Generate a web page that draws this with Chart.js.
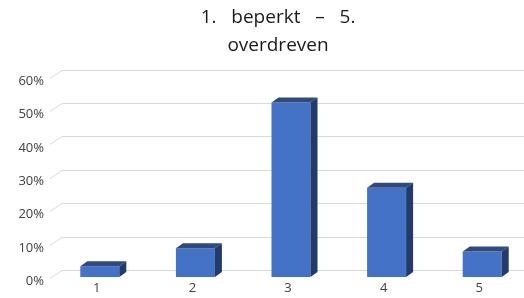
<!DOCTYPE html>
<html>
<head>
<meta charset="utf-8">
<script src="https://cdn.jsdelivr.net/npm/chart.js@4/dist/chart.umd.min.js"></script>
<style>
html,body{margin:0;padding:0;overflow:hidden;background:#fff;width:524px;height:298px;}
canvas{display:block;}
</style>
</head>
<body>
<canvas id="c" width="556" height="298"></canvas>
<script>
const categories = ['1', '2', '3', '4', '5'];
const values = [3.2, 8.6, 52.2, 26.7, 7.6];
const yTicks = [0, 10, 20, 30, 40, 50, 60];
const titleLines = ['1.   beperkt   \u2013   5.', 'overdreven'];

const depth3d = {
  id: 'depth3d',
  beforeDatasetsDraw(chart) {
    const { ctx, chartArea, scales: { y } } = chart;
    ctx.save();
    ctx.strokeStyle = '#d9d9d9';
    ctx.lineWidth = 1;
    y.ticks.forEach(t => {
      const py = Math.round(y.getPixelForValue(t.value)) + 0.5;
      ctx.beginPath();
      ctx.moveTo(chartArea.left - 2, py + 1);
      ctx.lineTo(chartArea.left + 10, py - 7);
      ctx.lineTo(chart.width, py - 7);
      ctx.stroke();
    });
    ctx.restore();
  },
  afterDatasetsDraw(chart) {
    const { ctx } = chart;
    const dx = 7, dy = 5;
    chart.getDatasetMeta(0).data.forEach(bar => {
      const { x, y, base, width } = bar.getProps(['x', 'y', 'base', 'width'], true);
      const L = x - width / 2, R = x + width / 2;
      ctx.save();
      ctx.fillStyle = '#2C4A84';
      ctx.beginPath();
      ctx.moveTo(L, y);
      ctx.lineTo(L + dx, y - dy);
      ctx.lineTo(R + dx, y - dy);
      ctx.lineTo(R, y);
      ctx.closePath();
      ctx.fill();
      ctx.fillStyle = '#223B6C';
      ctx.beginPath();
      ctx.moveTo(R, y);
      ctx.lineTo(R + dx, y - dy);
      ctx.lineTo(R + dx, base - dy);
      ctx.lineTo(R, base);
      ctx.closePath();
      ctx.fill();
      ctx.restore();
    });
  }
};

new Chart(document.getElementById('c'), {
  type: 'bar',
  data: {
    labels: categories,
    datasets: [{
      data: values,
      backgroundColor: '#4472C4',
      borderWidth: 0,
      barPercentage: 0.408,
      categoryPercentage: 1
    }]
  },
  options: {
    responsive: false,
    devicePixelRatio: 1,
    animation: false,
    layout: { padding: 0 },
    plugins: {
      legend: { display: false },
      tooltip: { enabled: false },
      title: {
        display: true,
        text: titleLines,
        color: '#1a1a1a',
        font: { family: 'Open Sans', size: 19, weight: 'normal', lineHeight: 1.474 },
        padding: { top: 4, bottom: 16.5 }
      }
    },
    scales: {
      x: {
        grid: { display: false, drawTicks: false },
        border: { display: false },
        ticks: { color: '#404040', font: { family: 'Open Sans', size: 13 }, padding: 3, labelOffset: -3 },
        afterFit(s) { s.height = 21; }
      },
      y: {
        min: 0, max: 60,
        afterBuildTicks(s) { s.ticks = yTicks.map(v => ({ value: v })); },
        grid: { display: false, drawTicks: false },
        border: { display: false },
        ticks: {
          color: '#404040',
          font: { family: 'Open Sans', size: 13 },
          padding: 8,
          labelOffset: 4.5,
          callback: v => v + '%'
        },
        afterFit(s) { s.width = 52; }
      },
      y2: {
        position: 'right',
        display: true,
        grid: { display: false, drawTicks: false },
        border: { display: false },
        ticks: { display: false },
        afterFit(s) { s.width = 26; }
      }
    }
  },
  plugins: [depth3d]
});
</script>
</body>
</html>
